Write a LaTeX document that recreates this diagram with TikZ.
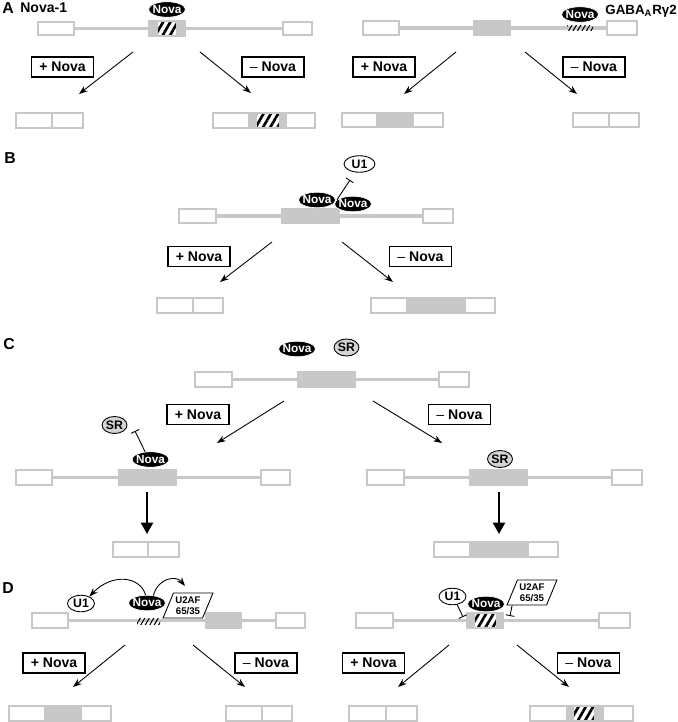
\documentclass[tikz,border=0pt]{standalone}
\usepackage{fontspec}
\setmainfont{Liberation Sans}
\usepackage{tikz}
\usetikzlibrary{shapes.geometric,arrows.meta,fit,patterns.meta}
\definecolor{exongray}{RGB}{200,200,200}
\definecolor{srgray}{RGB}{212,212,212}

\begin{document}
\begin{tikzpicture}[x=0.02cm, y=-0.02cm,
  exon/.style={draw=exongray, line width=0.6pt, fill=white, inner sep=0pt, rectangle},
  alt/.style={exon, fill=exongray},
  hatch/.style={exon, pattern={Lines[angle=60,distance=3.6pt,line width=1.5pt]}, pattern color=black},
  site/.style={inner sep=0pt, rectangle, fill=white, pattern={Lines[angle=60,distance=2.2pt,line width=0.6pt]}, pattern color=black},
  intron/.style={draw=exongray, line width=1.8pt},
  nova/.style={ellipse, fill=black, draw=white, line width=0.4pt, inner sep=0pt, minimum width=0.74cm, minimum height=0.31cm, text=white, font=\fontsize{6.7}{7}\selectfont\bfseries},
  sr/.style={ellipse, fill=srgray, draw=black, line width=0.5pt, inner sep=0pt, minimum width=0.5cm, minimum height=0.34cm, font=\fontsize{7}{8}\selectfont\bfseries},
  u1/.style={ellipse, fill=white, draw=black, line width=0.5pt, inner sep=0pt, minimum width=0.54cm, minimum height=0.33cm, font=\fontsize{7}{8}\selectfont\bfseries},
  u2af/.style={trapezium, trapezium left angle=64, trapezium right angle=116, trapezium stretches=true, draw=black, fill=white, line width=0.5pt, inner sep=0.5pt, minimum width=1cm, minimum height=0.5cm, font=\fontsize{5.5}{6.3}\selectfont\bfseries, align=center},
  cond/.style={draw=black, line width=0.75pt, rectangle, inner sep=0pt, minimum width=1.24cm, minimum height=0.4cm, font=\fontsize{8}{9}\selectfont\bfseries},
  flow/.style={-{Stealth[length=5pt,width=3.6pt]}, line width=0.5pt},
  down/.style={-{Triangle[length=6.5pt,width=7pt]}, line width=0.9pt},
  inhib/.style={-{Bar[width=5pt]}, line width=0.5pt},
  panel/.style={anchor=west, inner sep=0pt, font=\fontsize{9}{10}\selectfont\bfseries},
  gene/.style={anchor=west, inner sep=0pt, font=\fontsize{8}{9}\selectfont\bfseries}
]
\useasboundingbox (0,0) rectangle (678,722);

% A, Nova-1
\node[panel] (labA) at (2,8) {A};
\node[gene] (nameA) at (20,8) {Nova-1};
\node[exon, fit={(38,22) (74,35)}] (a1) {};
\node[alt, fit={(149,21) (157,36)}] (a2l) {};
\node[hatch, fit={(157,21) (177,36)}] (a2) {};
\node[alt, fit={(177,21) (185,36)}] (a2r) {};
\node[exon, fit={(283,22) (312,35)}] (a3) {};
\draw[intron] (a1) -- (a2l);
\draw[intron] (a2r) -- (a3);
\node[nova] (novaA) at (167,9.5) {\makebox[0pt]{Nova}};
\coordinate (aL0) at (133,52); \coordinate (aL1) at (79,94);
\coordinate (aR0) at (200,52); \coordinate (aR1) at (251,93);
\draw[flow] (aL0) -- (aL1);
\draw[flow] (aR0) -- (aR1);
\node[cond] (aPlus) at (62.5,67) {+ Nova};
\node[cond] (aMinus) at (273,67) {{\mdseries\textendash} Nova};
\node[exon, fit={(16,113) (52,128)}] (pa1) {};
\node[exon, fit={(52,113) (83,128)}] (pa2) {};
\node[exon, fit={(213,113) (249,128)}] (pa3) {};
\node[alt, fit={(249,113) (256,128)}] (pa4) {};
\node[hatch, fit={(256,113) (280,128)}] (pa5) {};
\node[alt, fit={(280,113) (286,128)}] (pa6) {};
\node[exon, fit={(286,113) (315,128)}] (pa7) {};

% A, GABA
\node[gene, font=\fontsize{7.6}{9}\selectfont\bfseries] (nameG) at (605,11) {GABA\textsubscript{A}Rγ2};
\node[exon, fit={(363,21) (399,35)}] (g1) {};
\node[alt, fit={(474,21) (510,35)}] (g2) {};
\node[exon, fit={(607,21) (637,35)}] (g3) {};
\draw[intron] (g1) -- (g2);
\draw[intron] (g2) -- (g3);
\node[site, fit={(567,26) (593,31)}] (gSite) {};
\node[nova] (novaG) at (580,14.5) {\makebox[0pt]{Nova}};
\coordinate (gL0) at (456,52); \coordinate (gL1) at (404,94);
\coordinate (gR0) at (525,52); \coordinate (gR1) at (577,94);
\draw[flow] (gL0) -- (gL1);
\draw[flow] (gR0) -- (gR1);
\node[cond] (gPlus) at (384,67) {+ Nova};
\node[cond] (gMinus) at (594,67) {{\mdseries\textendash} Nova};
\node[exon, fit={(342,113) (377,127)}] (pg1) {};
\node[alt, fit={(377,113) (413,127)}] (pg2) {};
\node[exon, fit={(413,113) (443,127)}] (pg3) {};
\node[exon, fit={(573,113) (609,127)}] (pg4) {};
\node[exon, fit={(609,113) (639,127)}] (pg5) {};

% B
\node[panel] (labB) at (4,158) {B};
\node[exon, fit={(179,209) (216,223)}] (b1) {};
\node[alt, fit={(282,209) (339,223)}] (b2) {};
\node[exon, fit={(423,209) (453,223)}] (b3) {};
\draw[intron] (b1) -- (b2);
\draw[intron] (b2) -- (b3);
\node[nova] (novaB1) at (317,200) {\makebox[0pt]{Nova}};
\node[nova] (novaB2) at (353,204) {\makebox[0pt]{Nova}};
\node[u1, minimum width=0.62cm] (u1B) at (359.5,164) {\makebox[0pt]{U1}};
\coordinate (iB) at (350,180);
\draw[inhib] (novaB2.165) -- (iB);
\coordinate (bL0) at (272,242); \coordinate (bL1) at (220,282);
\coordinate (bR0) at (342,242); \coordinate (bR1) at (393,282);
\draw[flow] (bL0) -- (bL1);
\draw[flow] (bR0) -- (bR1);
\node[cond] (bPlus) at (199,256.5) {+ Nova};
\node[cond] (bMinus) at (420.5,256.5) {{\mdseries\textendash} Nova};
\node[exon, fit={(157,298) (193,313)}] (pb1) {};
\node[exon, fit={(193,298) (223,313)}] (pb2) {};
\node[exon, fit={(371,298) (407,313)}] (pb3) {};
\node[alt, fit={(407,298) (465,313)}] (pb4) {};
\node[exon, fit={(465,298) (495,313)}] (pb5) {};

% C
\node[panel] (labC) at (3,344) {C};
\node[nova] (novaC) at (297,349) {\makebox[0pt]{Nova}};
\node[sr] (srC) at (346.5,347.5) {\makebox[0pt]{SR}};
\node[exon, fit={(195,372) (232,387)}] (c1) {};
\node[alt, fit={(298,372) (355,387)}] (c2) {};
\node[exon, fit={(439,372) (469,387)}] (c3) {};
\draw[intron] (c1) -- (c2);
\draw[intron] (c2) -- (c3);
\coordinate (cL0) at (284,401); \coordinate (cL1) at (217,443);
\coordinate (cR0) at (373,401); \coordinate (cR1) at (442,443);
\draw[flow] (cL0) -- (cL1);
\draw[flow] (cR0) -- (cR1);
\node[cond] (cPlus) at (198,414.5) {+ Nova};
\node[cond] (cMinus) at (459.5,414.5) {{\mdseries\textendash} Nova};
\node[exon, fit={(16,470) (52,485)}] (l1) {};
\node[alt, fit={(119,470) (176,485)}] (l2) {};
\node[exon, fit={(261,470) (290,485)}] (l3) {};
\draw[intron] (l1) -- (l2);
\draw[intron] (l2) -- (l3);
\node[nova] (novaCL) at (150.5,459.5) {\makebox[0pt]{Nova}};
\node[sr] (srCL) at (114.5,425) {\makebox[0pt]{SR}};
\coordinate (iC) at (135,431);
\draw[inhib] (novaCL.125) -- (iC);
\coordinate (dL0) at (147,492); \coordinate (dL1) at (147,534);
\draw[down] (dL0) -- (dL1);
\node[exon, fit={(113,542) (148,557)}] (pc1) {};
\node[exon, fit={(148,542) (179,557)}] (pc2) {};
\node[exon, fit={(367,470) (404,485)}] (r1) {};
\node[alt, fit={(470,470) (527,485)}] (r2) {};
\node[exon, fit={(612,470) (642,485)}] (r3) {};
\draw[intron] (r1) -- (r2);
\draw[intron] (r2) -- (r3);
\node[sr] (srCR) at (500,459) {\makebox[0pt]{SR}};
\coordinate (dR0) at (499,492); \coordinate (dR1) at (499,534);
\draw[down] (dR0) -- (dR1);
\node[exon, fit={(434,542) (470,557)}] (pc3) {};
\node[alt, fit={(470,542) (528,557)}] (pc4) {};
\node[exon, fit={(528,542) (558,557)}] (pc5) {};

% D, left
\node[panel] (labD) at (2,588) {D};
\node[exon, fit={(32,613) (68,628)}] (d1) {};
\node[alt, fit={(206,613) (241,628)}] (d2) {};
\node[exon, fit={(276,613) (305,628)}] (d3) {};
\draw[intron] (d1) -- (d2);
\draw[intron] (d2) -- (d3);
\node[site, fit={(137,618) (160,624)}] (dSite) {};
\node[u1] (u1D) at (81,603.5) {\makebox[0pt]{U1}};
\node[nova] (novaD) at (147,603) {\makebox[0pt]{Nova}};
\node[u2af] (u2D) at (188,605.5) {U2AF\\65/35};
\coordinate (u2tip) at (185,586);
\draw[flow] (novaD.100) .. controls (140,576) and (112,573) .. (u1D.40);
\draw[flow] (novaD.50) .. controls (158,578) and (176,575) .. (u2tip);
\coordinate (dL2) at (125,645); \coordinate (dL3) at (73,687);
\coordinate (dR2) at (193,645); \coordinate (dR3) at (245,687);
\draw[flow] (dL2) -- (dL3);
\draw[flow] (dR2) -- (dR3);
\node[cond] (dPlus) at (54,663) {+ Nova};
\node[cond] (dMinus) at (266,663) {{\mdseries\textendash} Nova};
\node[exon, fit={(9,706) (45,721)}] (pd1) {};
\node[alt, fit={(45,706) (81,721)}] (pd2) {};
\node[exon, fit={(81,706) (111,721)}] (pd3) {};
\node[exon, fit={(226,706) (262,721)}] (pd4) {};
\node[exon, fit={(262,706) (292,721)}] (pd5) {};

% D, right
\node[exon, fit={(356,613) (393,628)}] (e1) {};
\node[alt, fit={(467,613) (474,628)}] (e2l) {};
\node[hatch, fit={(474,613) (497,628)}] (e2) {};
\node[alt, fit={(497,613) (503,628)}] (e2r) {};
\node[exon, fit={(599,613) (630,628)}] (e3) {};
\draw[intron] (e1) -- (e2l);
\draw[intron] (e2r) -- (e3);
\node[u1] (u1E) at (452.5,596.5) {\makebox[0pt]{U1}};
\node[nova] (novaE) at (486,604) {\makebox[0pt]{Nova}};
\node[u2af] (u2E) at (532,592.5) {U2AF\\65/35};
\coordinate (iE1) at (463,617);
\coordinate (iE2) at (510,616);
\draw[inhib] (u1E.-60) -- (iE1);
\draw[inhib] (u2E.213) -- (iE2);
\coordinate (eL0) at (449,645); \coordinate (eL1) at (398,687);
\coordinate (eR0) at (517,645); \coordinate (eR1) at (569,687);
\draw[flow] (eL0) -- (eL1);
\draw[flow] (eR0) -- (eR1);
\node[cond] (ePlus) at (373.5,663) {+ Nova};
\node[cond] (eMinus) at (588.5,663) {{\mdseries\textendash} Nova};
\node[exon, fit={(349,706) (386,721)}] (pe1) {};
\node[exon, fit={(386,706) (417,721)}] (pe2) {};
\node[exon, fit={(530,706) (567,721)}] (pe3) {};
\node[alt, fit={(567,706) (573,721)}] (pe4) {};
\node[hatch, fit={(573,706) (595,721)}] (pe5) {};
\node[alt, fit={(595,706) (603,721)}] (pe6) {};
\node[exon, fit={(603,706) (633,721)}] (pe7) {};
\end{tikzpicture}
\end{document}
